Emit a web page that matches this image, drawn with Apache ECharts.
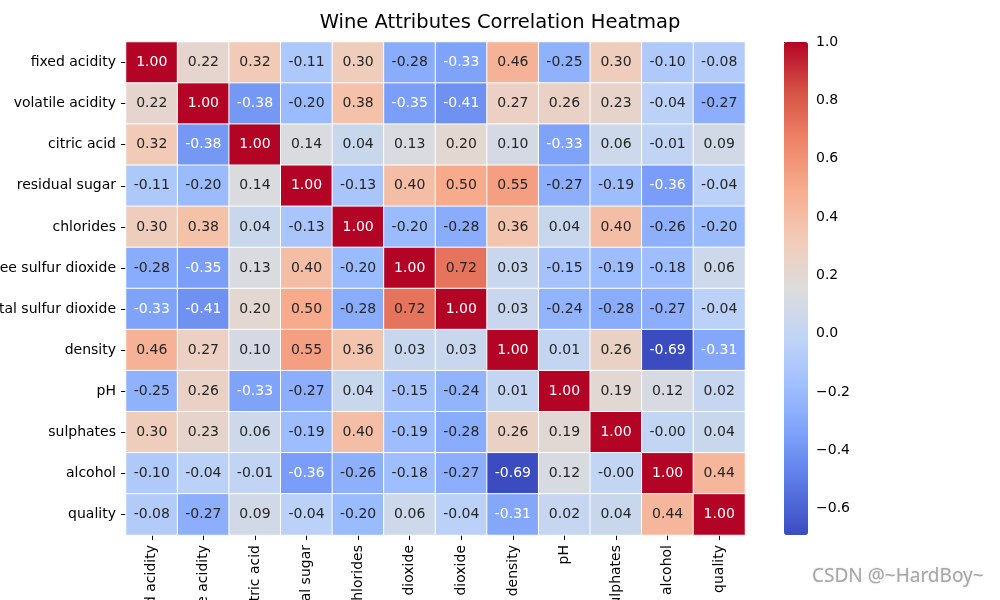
<!DOCTYPE html>
<html>
<head>
<meta charset="utf-8">
<script src="https://cdn.jsdelivr.net/npm/echarts@6/dist/echarts.min.js"></script>
<style>html,body{margin:0;padding:0;background:#fff}#c{width:1000px;height:600px}</style>
</head>
<body>
<div id="c"></div>
<script>
const titleText = 'Wine Attributes Correlation Heatmap';
const attributes = ['fixed acidity','volatile acidity','citric acid','residual sugar','chlorides','free sulfur dioxide','total sulfur dioxide','density','pH','sulphates','alcohol','quality'];
const rowFixedAcidity    = [1.00, 0.22, 0.32, -0.11, 0.30, -0.28, -0.33, 0.46, -0.25, 0.30, -0.10, -0.08];
const rowVolatileAcidity = [0.22, 1.00, -0.38, -0.20, 0.38, -0.35, -0.41, 0.27, 0.26, 0.23, -0.04, -0.27];
const rowCitricAcid      = [0.32, -0.38, 1.00, 0.14, 0.04, 0.13, 0.20, 0.10, -0.33, 0.06, -0.01, 0.09];
const rowResidualSugar   = [-0.11, -0.20, 0.14, 1.00, -0.13, 0.40, 0.50, 0.55, -0.27, -0.19, -0.36, -0.04];
const rowChlorides       = [0.30, 0.38, 0.04, -0.13, 1.00, -0.20, -0.28, 0.36, 0.04, 0.40, -0.26, -0.20];
const rowFreeSO2         = [-0.28, -0.35, 0.13, 0.40, -0.20, 1.00, 0.72, 0.03, -0.15, -0.19, -0.18, 0.06];
const rowTotalSO2        = [-0.33, -0.41, 0.20, 0.50, -0.28, 0.72, 1.00, 0.03, -0.24, -0.28, -0.27, -0.04];
const rowDensity         = [0.46, 0.27, 0.10, 0.55, 0.36, 0.03, 0.03, 1.00, 0.01, 0.26, -0.69, -0.31];
const rowPH              = [-0.25, 0.26, -0.33, -0.27, 0.04, -0.15, -0.24, 0.01, 1.00, 0.19, 0.12, 0.02];
const rowSulphates       = [0.30, 0.23, 0.06, -0.19, 0.40, -0.19, -0.28, 0.26, 0.19, 1.00, -0.00, 0.04];
const rowAlcohol         = [-0.10, -0.04, -0.01, -0.36, -0.26, -0.18, -0.27, -0.69, 0.12, -0.00, 1.00, 0.44];
const rowQuality         = [-0.08, -0.27, 0.09, -0.04, -0.20, 0.06, -0.04, -0.31, 0.02, 0.04, 0.44, 1.00];
const colorbarTicks = [-0.6, -0.4, -0.2, 0.0, 0.2, 0.4, 0.6, 0.8, 1.0];
const colorMin = -0.69, colorMax = 1.0;

const matrix = [rowFixedAcidity,rowVolatileAcidity,rowCitricAcid,rowResidualSugar,rowChlorides,rowFreeSO2,rowTotalSO2,rowDensity,rowPH,rowSulphates,rowAlcohol,rowQuality];
const coolwarm = ['#3b4cc0','#5977e3','#7b9ff9','#9ebeff','#c0d4f5','#dddcdc','#f2cbb7','#f7ac8e','#ee8468','#d65244','#b40426'];

function fmt(v){
  const neg = v < 0 || Object.is(v, -0);
  return (neg ? '-' : '') + Math.abs(v).toFixed(2);
}
const data = [];
matrix.forEach((row, r) => row.forEach((v, c) => {
  const white = v >= 0.9 || v <= -0.30;
  data.push({ value: [c, r, v], label: { color: white ? '#ffffff' : '#262626' } });
}));

const chart = echarts.init(document.getElementById('c'), null, { renderer: 'canvas' });
chart.setOption({
  animation: false,
  backgroundColor: '#ffffff',
  textStyle: { fontFamily: 'DejaVu Sans' },
  title: {
    text: titleText, left: 'center', top: 8,
    textStyle: { fontFamily: 'DejaVu Sans', fontSize: 19.5, fontWeight: 'normal', color: '#000' }
  },
  grid: [
    { left: 126, top: 42, width: 619, height: 493, containLabel: false, outerBoundsMode: 'none' },
    { left: 784, top: 42, width: 24, height: 493, containLabel: false, outerBoundsMode: 'none' }
  ],
  xAxis: [
    {
      gridIndex: 0, type: 'category', data: attributes, position: 'bottom',
      axisLine: { show: false },
      axisTick: { show: true, alignWithLabel: true, length: 5, lineStyle: { color: '#000' } },
      axisLabel: { rotate: 90, interval: 0, fontSize: 14, color: '#000', margin: 10, fontFamily: 'DejaVu Sans', hideOverlap: false },
      splitLine: { show: false }
    },
    { gridIndex: 1, type: 'value', show: false, min: 0, max: 1 }
  ],
  yAxis: [
    {
      gridIndex: 0, type: 'category', data: attributes, inverse: true,
      axisLine: { show: false },
      axisTick: { show: true, alignWithLabel: true, length: 5, lineStyle: { color: '#000' } },
      axisLabel: { interval: 0, fontSize: 14, color: '#000', margin: 10, fontFamily: 'DejaVu Sans', hideOverlap: false },
      splitLine: { show: false }
    },
    {
      gridIndex: 1, type: 'value', min: colorMin, max: colorMax, position: 'right',
      axisLine: { show: false },
      splitLine: { show: false },
      axisTick: { show: true, length: 5, customValues: colorbarTicks, lineStyle: { color: '#000' } },
      axisLabel: {
        show: true, fontSize: 14, color: '#000', margin: 8, customValues: colorbarTicks,
        fontFamily: 'DejaVu Sans',
        formatter: v => (v < 0 ? '\u2212' : '') + Math.abs(v).toFixed(1)
      }
    }
  ],
  visualMap: {
    type: 'continuous', min: colorMin, max: colorMax, seriesIndex: 0,
    calculable: false, realtime: false, hoverLink: false,
    orient: 'vertical', left: 784, top: 42, padding: 0,
    itemWidth: 24, itemHeight: 493,
    showLabel: false, text: null,
    inRange: { color: coolwarm }
  },
  series: [{
    type: 'heatmap', xAxisIndex: 0, yAxisIndex: 0,
    data: data,
    itemStyle: { borderColor: '#ffffff', borderWidth: 1 },
    label: { show: true, fontSize: 14, fontFamily: 'DejaVu Sans', formatter: p => fmt(p.value[2]) },
    emphasis: { disabled: true }
  }],
  graphic: [{
    type: 'text', left: 812, top: 567,
    style: { text: 'CSDN @~HardBoy~', fontSize: 19, fontFamily: 'Noto Sans', fill: '#a8a8a8',
      textShadowColor: 'rgba(0,0,0,0.15)', textShadowBlur: 2 }
  }]
});
</script>
</body>
</html>
